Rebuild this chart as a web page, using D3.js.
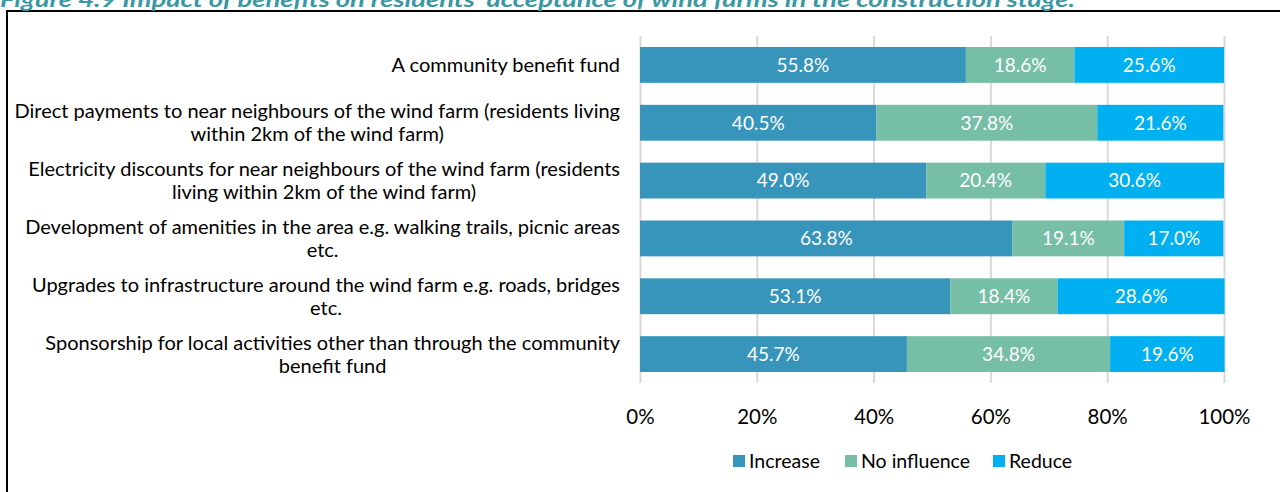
<!DOCTYPE html>
<html><head><meta charset="utf-8">
<script src="https://cdn.jsdelivr.net/npm/d3@7"></script>
<style>
html,body{margin:0;padding:0;background:#fff;overflow:hidden;}
svg{display:block;font-family:Lato,"Open Sans",sans-serif;}
</style></head>
<body>
<svg id="chart" width="1280" height="492"></svg>
<script>
const title = "Figure 4.9 Impact of benefits on residents' acceptance of wind farms in the construction stage.";
const categories = [
  ["A community benefit fund"],
  ["Direct payments to near neighbours of the wind farm (residents living", "within 2km of the wind farm)"],
  ["Electricity discounts for near neighbours of the wind farm (residents", "living within 2km of the wind farm)"],
  ["Development of amenities in the area e.g. walking trails, picnic areas", "etc."],
  ["Upgrades to infrastructure around the wind farm e.g. roads, bridges", "etc."],
  ["Sponsorship for local activities other than through the community", "benefit fund"]
];
const seriesNames = ["Increase", "No influence", "Reduce"];
const increase    = [55.8, 40.5, 49.0, 63.8, 53.1, 45.7];
const noInfluence = [18.6, 37.8, 20.4, 19.1, 18.4, 34.8];
const reduce      = [25.6, 21.6, 30.6, 17.0, 28.6, 19.6];
const tickValues = [0, 20, 40, 60, 80, 100];
const colors = ["#3795bc", "#77bea7", "#00b0f0"];

const svg = d3.select("#chart");
const plotLeft = 640, plotRight = 1224, plotTop = 36, plotBottom = 383;

// border & title
svg.append("rect").attr("x", 7).attr("y", 11).attr("width", 1300).attr("height", 520)
  .attr("fill", "none").attr("stroke", "#000").attr("stroke-width", 2);
svg.append("text").attr("x", 0).attr("y", 7).text(title)
  .attr("font-size", 21).attr("font-weight", "bold").attr("font-style", "italic")
  .attr("fill", "#3a98a4").attr("textLength", 1075).attr("lengthAdjust", "spacingAndGlyphs");

const x = d3.scaleLinear().domain([0, 100]).range([plotLeft, plotRight]);
const idx = d3.range(categories.length);
const y = d3.scaleBand().domain(idx).range([plotTop, plotBottom]).paddingInner(0.38).paddingOuter(0.19);

// gridlines via axis
const xAxis = d3.axisBottom(x).tickValues(tickValues).tickSize(-(plotBottom - plotTop)).tickFormat(d => d + "%");
const gx = svg.append("g").attr("transform", `translate(0,${plotBottom})`).call(xAxis);
gx.select(".domain").remove();
gx.selectAll(".tick line").attr("stroke", "#d9d9d9").attr("stroke-width", 2);
gx.selectAll(".tick text").attr("font-size", 20.5).attr("fill", "#000").attr("dy", 0)
  .attr("y", 41).attr("font-family", "Lato");

// stacked data
const rows = idx.map(i => ({i, "Increase": increase[i], "No influence": noInfluence[i], "Reduce": reduce[i]}));
const stack = d3.stack().keys(seriesNames)(rows);
stack.forEach((s, si) => {
  const g = svg.append("g");
  g.selectAll("rect").data(s).join("rect")
    .attr("x", d => x(d[0])).attr("width", d => x(d[1]) - x(d[0]))
    .attr("y", d => y(d.data.i)).attr("height", y.bandwidth())
    .attr("fill", colors[si]);
  g.selectAll("text").data(s).join("text")
    .attr("x", d => (x(d[0]) + x(d[1])) / 2).attr("y", d => y(d.data.i) + y.bandwidth() / 2)
    .attr("dy", "0.36em").attr("text-anchor", "middle").attr("fill", "#fff")
    .attr("font-size", 19).text(d => (d[1] - d[0]).toFixed(1) + "%");
});

// category labels
const labelRight = 620, lineH = 23;
idx.forEach(i => {
  const lines = categories[i];
  const g = svg.append("g");
  const cy = y(i) + y.bandwidth() / 2;
  const texts = lines.map((ln, k) => g.append("text")
    .attr("y", cy + (k - (lines.length - 1) / 2) * lineH).attr("dy", "0.36em")
    .attr("font-size", 20).attr("fill", "#000").attr("text-anchor", "middle").text(ln));
  const w = d3.max(texts, t => t.node().getComputedTextLength());
  texts.forEach(t => t.attr("x", labelRight - w / 2));
});

// legend
const legendX = [733, 845, 993];
seriesNames.forEach((n, k) => {
  svg.append("rect").attr("x", legendX[k]).attr("y", 455).attr("width", 12).attr("height", 12).attr("fill", colors[k]);
  svg.append("text").attr("x", legendX[k] + 16).attr("y", 461).attr("dy", "0.36em")
    .attr("font-size", 19.5).attr("fill", "#000").text(n);
});
</script>
</body></html>
